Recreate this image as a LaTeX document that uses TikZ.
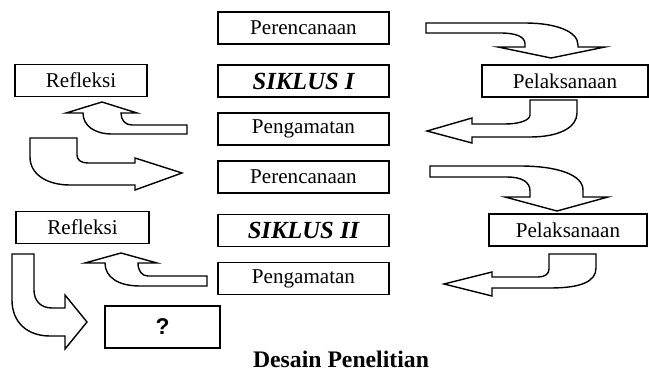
\documentclass[tikz,border=0pt]{standalone}
\usepackage{fontspec}
\setmainfont{Liberation Serif}
\setsansfont{Liberation Sans}
\usetikzlibrary{positioning}
\tikzset{
  phase/.style={draw,line width=.8pt,minimum width=3.42cm,minimum height=.64cm,inner sep=0pt,font=\fontsize{12}{14}\selectfont},
  cyclebox/.style={phase,font=\fontsize{14}{16}\selectfont\bfseries\itshape},
  bentarrow/.style={draw,fill=white,line width=.8pt,line join=miter}
}
\begin{document}
\begin{tikzpicture}[x=.02cm,y=-.02cm]
\useasboundingbox (0,0) rectangle (649,372);
% middle column
\node[phase] (plan1) at (303.5,28) {Perencanaan};
\node[cyclebox] (cyc1) at (303.5,81) {SIKLUS I};
\node[phase] (obs1) at (303.5,129) {Pengamatan};
\node[phase] (plan2) at (303.5,177) {Perencanaan};
\node[cyclebox] (cyc2) at (303.5,230.5) {SIKLUS II};
\node[phase] (obs2) at (303.5,278.5) {Pengamatan};
% side boxes
\node[phase,minimum width=2.64cm] (refl1) at (81,80.5) {Refleksi};
\node[phase,minimum width=2.66cm] (refl2) at (82.5,227.5) {Refleksi};
\node[phase,minimum width=3.32cm] (act1) at (565,81) {Pelaksanaan};
\node[phase,minimum width=3.16cm] (act2) at (568,230) {Pelaksanaan};
\node[phase,minimum width=2.3cm,minimum height=.84cm,font=\fontsize{13}{15}\selectfont\sffamily\bfseries] (next) at (162.5,327) {?};
\node[inner sep=0pt,font=\fontsize{13.5}{15}\selectfont\bfseries] (title) at (341,359) {Desain Penelitian};
% cycle I arrows
\draw[bentarrow] (426,23) -- (525,23) .. controls (555,23) and (578,31) .. (578,45) -- (578,47)
  -- (605,47) -- (551,58) -- (498,47) -- (525,47) -- (525,44) .. controls (525,37) and (517,33) .. (500,33)
  -- (426,33) -- cycle;
\draw[bentarrow] (530,100) -- (530,115) .. controls (530,120) and (520,124) .. (505,124) -- (472,124)
  -- (472,118) -- (427,131) -- (472,143) -- (472,137) -- (530,137) .. controls (560,137) and (577,127) .. (577,113)
  -- (577,100) -- cycle;
\draw[bentarrow] (187,125) -- (132,125) .. controls (125,125) and (121,120) .. (121,113) -- (137,113)
  -- (102,102) -- (66,113) -- (83,113) .. controls (83,126) and (95,134) .. (112,134)
  -- (187,134) -- cycle;
\draw[bentarrow] (30,138) -- (30,157) .. controls (30,175) and (48,185) .. (70,185) -- (135,185)
  -- (135,190) -- (182,173) -- (135,158) -- (135,163) -- (88,163) .. controls (81,163) and (77,160) .. (77,155)
  -- (77,138) -- cycle;
% cycle II arrows
\draw[bentarrow] (430,166) -- (520,166) .. controls (558,166) and (583,175) .. (583,190) -- (583,197)
  -- (608,197) -- (557,211) -- (505,197) -- (530,197) -- (530,191) .. controls (530,182) and (522,177) .. (507,177)
  -- (430,177) -- cycle;
\draw[bentarrow] (549,254) -- (549,269) .. controls (549,274) and (545,277) .. (538,277) -- (492,277)
  -- (492,272) -- (444,284) -- (492,296) -- (492,288) -- (550,288) .. controls (580,288) and (596,282) .. (596,268)
  -- (596,254) -- cycle;
\draw[bentarrow] (207,276) -- (148,276) .. controls (142,276) and (138,271) .. (138,263) -- (157,263)
  -- (121,253) -- (85,263) -- (105,263) .. controls (105,277) and (118,286) .. (140,286)
  -- (207,286) -- cycle;
\draw[bentarrow] (12,254) -- (12,300) .. controls (12,323) and (28,336) .. (50,336) -- (65,336)
  -- (65,349) -- (87,322) -- (65,295) -- (65,308) -- (52,308) .. controls (40,308) and (34,300) .. (34,290)
  -- (34,254) -- cycle;
\end{tikzpicture}
\end{document}
